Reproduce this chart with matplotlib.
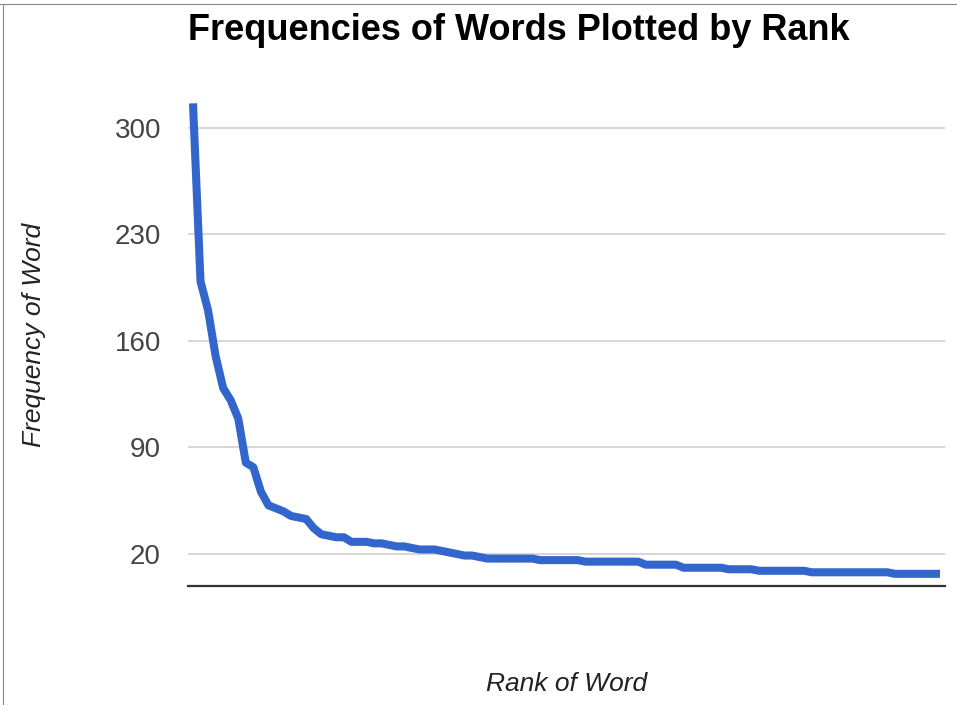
import numpy as np
import matplotlib
matplotlib.use("Agg")
import matplotlib.pyplot as plt
from matplotlib.lines import Line2D

plt.rcParams['font.family'] = ['Liberation Sans', 'DejaVu Sans']

# word frequencies, ordered by rank
freq = [316, 199, 180, 150, 129, 121, 109, 80, 77, 61,
        52, 50, 48, 45, 44, 43, 37, 33, 32, 31,
        31, 28, 28, 28, 27, 27, 26, 25, 25, 24,
        23, 23, 23, 22, 21, 20, 19, 19, 18, 17,
        17, 17, 17, 17, 17, 17, 16, 16, 16, 16,
        16, 16, 15, 15, 15, 15, 15, 15, 15, 15,
        13, 13, 13, 13, 13, 11, 11, 11, 11, 11,
        11, 10, 10, 10, 10, 9, 9, 9, 9, 9,
        9, 9, 8, 8, 8, 8, 8, 8, 8, 8,
        8, 8, 8, 7, 7, 7, 7, 7, 7, 7]
rank = np.arange(1, len(freq) + 1)
yticks = [20, 90, 160, 230, 300]

W, H = 957, 705
fig = plt.figure(figsize=(W / 100, H / 100), dpi=100)
ax = fig.add_axes([188 / W, 1 - 585.7 / H, (945 - 188) / W, (585.7 - 100) / H])

ax.plot(rank, freq, color='#3366cc', lw=5.8, solid_joinstyle='round',
        solid_capstyle='butt', zorder=3)

ax.set_xlim(0.34, 100.66)
ax.set_ylim(-0.8, 318.2)
ax.set_yticks(yticks)
ax.set_yticklabels([str(t) for t in yticks], fontsize=20, color='#444444')
ax.set_xticks([])
ax.tick_params(axis='y', length=0, pad=19.5)
ax.grid(axis='y', color='#cccccc', lw=1.1)
ax.set_axisbelow(True)
for s in ['top', 'right', 'left']:
    ax.spines[s].set_visible(False)
ax.spines['bottom'].set_color('#333333')
ax.spines['bottom'].set_linewidth(1.6)

fig.text(519 / W, 1 - 30 / H, 'Frequencies of Words Plotted by Rank',
         ha='center', va='center', fontsize=26, fontweight='bold', color='black')
fig.text(34 / W, 1 - 335 / H, 'Frequency of Word', rotation=90,
         ha='center', va='center', fontsize=19, style='italic', color='#222222')
fig.text(567 / W, 1 - 684 / H, 'Rank of Word',
         ha='center', va='center', fontsize=19, style='italic', color='#222222')

# frame edges of the original screenshot
fig.add_artist(Line2D([0, 1], [1 - 4 / H, 1 - 4 / H], transform=fig.transFigure,
                      color='#888888', lw=0.8))
fig.add_artist(Line2D([3 / W, 3 / W], [0, 1 - 4 / H], transform=fig.transFigure,
                      color='#888888', lw=0.8))

fig.savefig('out.png', dpi=100)
